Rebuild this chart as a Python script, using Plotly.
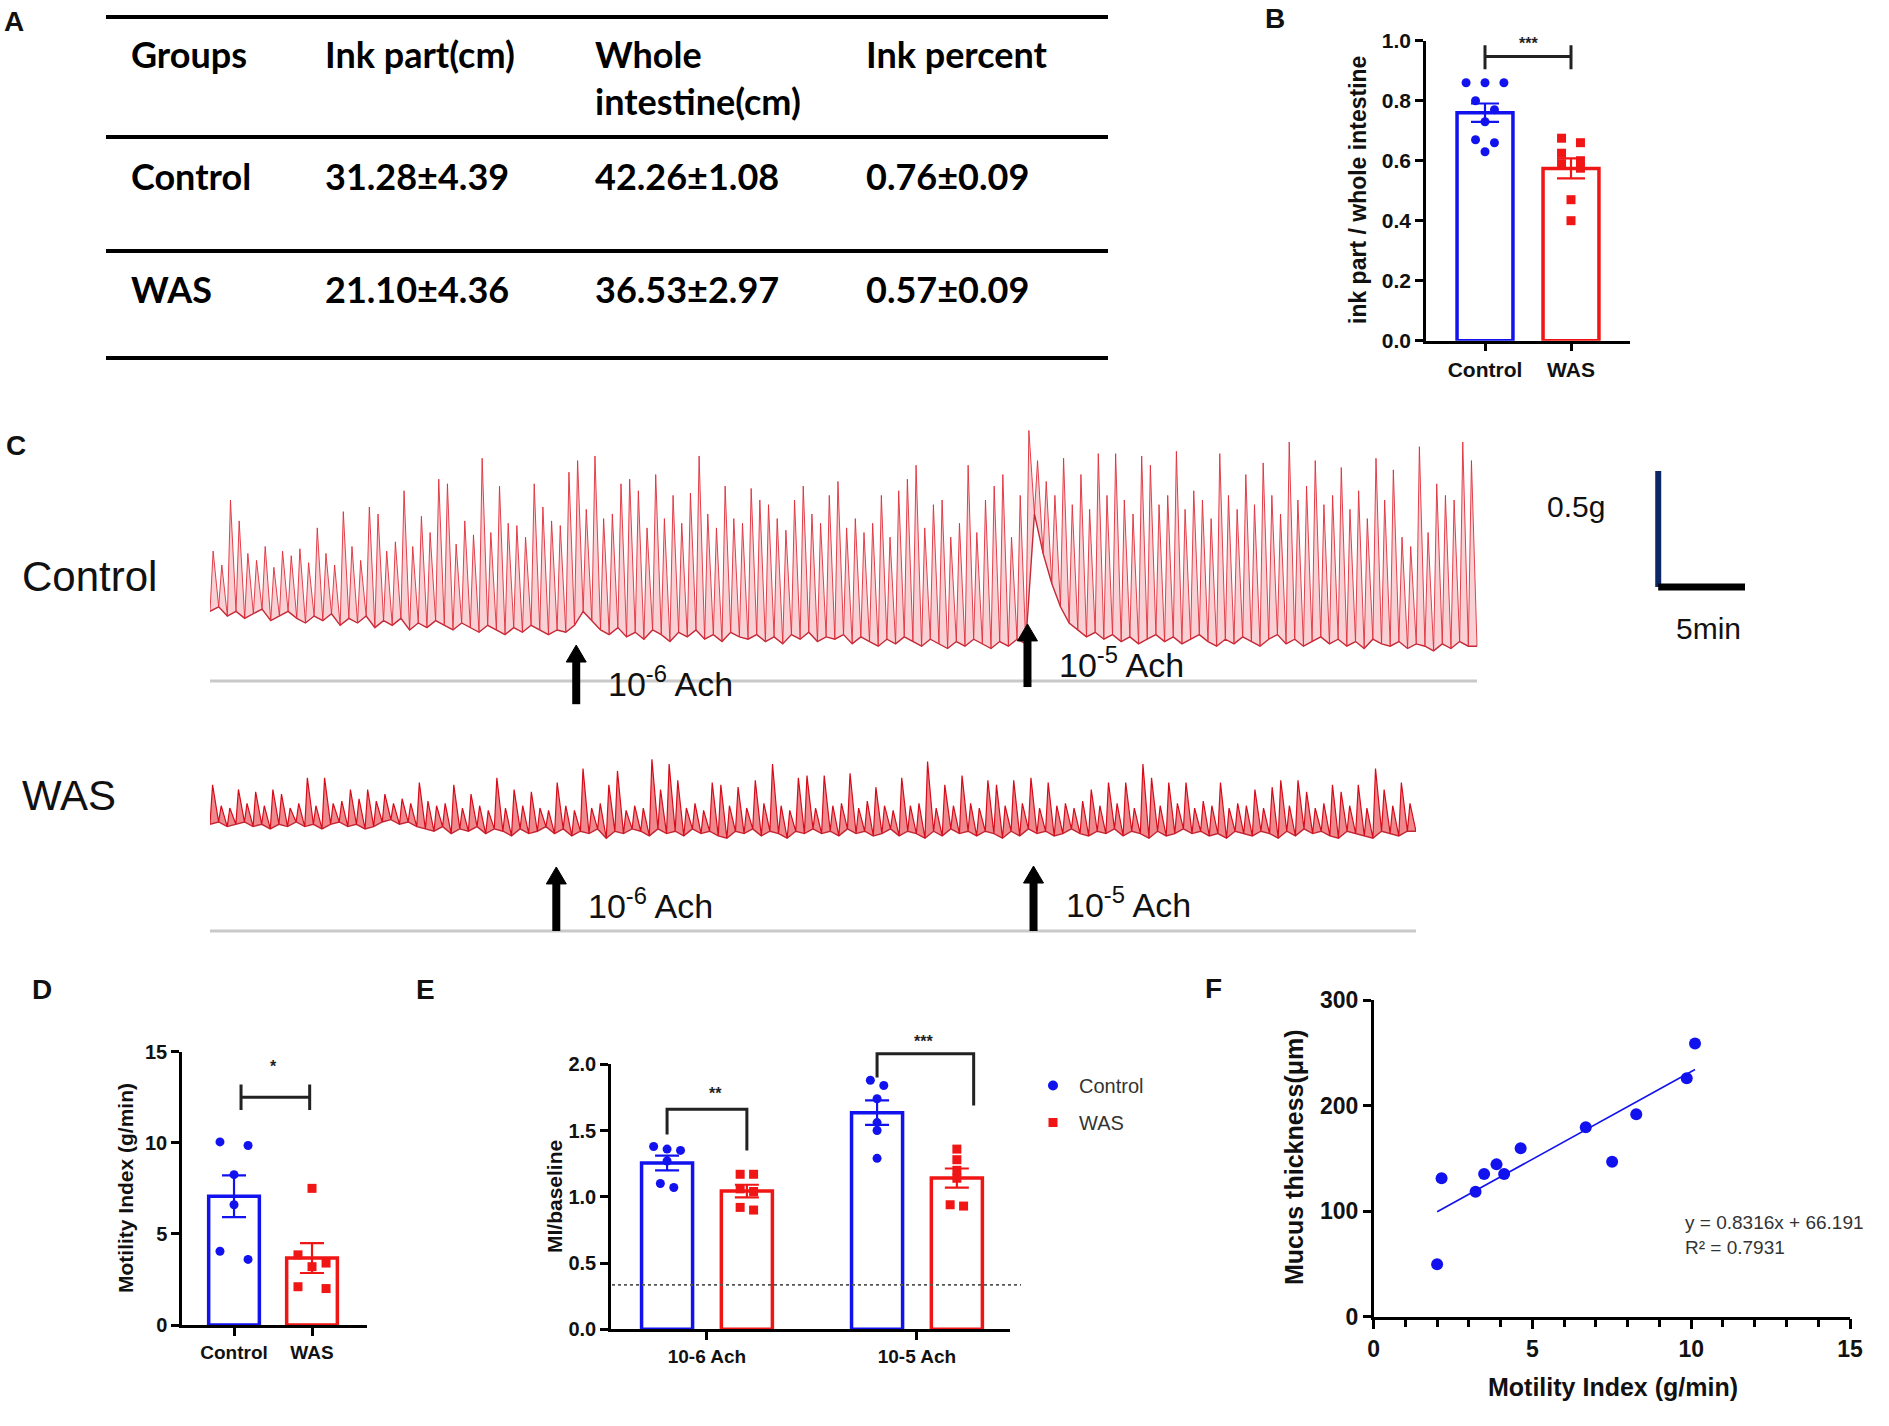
import numpy as np
import plotly.graph_objects as go

W, H = 1889, 1426
BLUE = "#1212ee"
RED = "#f01616"
FONT = "Liberation Sans, Arial, sans-serif"
TABLE_FONT = "Lato, Liberation Sans, sans-serif"

# ---------------- data ----------------
# A: table
table_header = ["Groups", "Ink part(cm)", "Whole<br>intestine(cm)", "Ink percent"]
table_rows = [["Control", "31.28±4.39", "42.26±1.08", "0.76±0.09"],
              ["WAS", "21.10±4.36", "36.53±2.97", "0.57±0.09"]]

# B: ink part / whole intestine
groups = ["Control", "WAS"]
ink_control = [0.86, 0.86, 0.86, 0.80, 0.77, 0.73, 0.67, 0.66, 0.63]
ink_was = [0.675, 0.66, 0.625, 0.60, 0.59, 0.575, 0.47, 0.40]

# C: tension traces (g), one trough and one peak per contraction cycle
control_troughs = [
    0.30, 0.32, 0.28, 0.30, 0.27, 0.29, 0.31, 0.26, 0.28, 0.30,
    0.27, 0.25, 0.28, 0.26, 0.29, 0.24, 0.27, 0.25, 0.28, 0.23,
    0.26, 0.24, 0.27, 0.22, 0.25, 0.23, 0.26, 0.24, 0.22, 0.25,
    0.23, 0.21, 0.24, 0.22, 0.20, 0.23, 0.21, 0.24, 0.22, 0.20,
    0.22, 0.21, 0.24, 0.30, 0.26, 0.22, 0.20, 0.23, 0.19, 0.21,
    0.18, 0.22, 0.20, 0.17, 0.21, 0.19, 0.22, 0.18, 0.20, 0.17,
    0.21, 0.19, 0.18, 0.20, 0.17, 0.19, 0.16, 0.20, 0.18, 0.21,
    0.17, 0.19, 0.18, 0.20, 0.16, 0.19, 0.17, 0.15, 0.18, 0.16,
    0.19, 0.17, 0.15, 0.18, 0.16, 0.14, 0.17, 0.15, 0.18, 0.16,
    0.14, 0.17, 0.15, 0.18, 0.16, 0.72, 0.55, 0.42, 0.32, 0.25,
    0.22, 0.19, 0.21, 0.18, 0.20, 0.17, 0.19, 0.16, 0.18, 0.20,
    0.17, 0.19, 0.16, 0.18, 0.20, 0.17, 0.15, 0.18, 0.16, 0.19,
    0.17, 0.15, 0.18, 0.20, 0.16, 0.18, 0.15, 0.17, 0.19, 0.16,
    0.18, 0.15, 0.17, 0.14, 0.18, 0.16, 0.15, 0.17, 0.14, 0.16,
    0.15, 0.13, 0.16, 0.14, 0.17, 0.15]
control_peaks = [
    0.56, 0.50, 0.78, 0.69, 0.55, 0.52, 0.58, 0.49, 0.56, 0.54,
    0.57, 0.51, 0.66, 0.55, 0.50, 0.73, 0.58, 0.52, 0.75, 0.72,
    0.56, 0.60, 0.82, 0.58, 0.71, 0.64, 0.87, 0.85, 0.59, 0.69,
    0.63, 0.96, 0.64, 0.84, 0.68, 0.67, 0.62, 0.85, 0.75, 0.69,
    0.67, 0.90, 0.95, 0.74, 0.97, 0.70, 0.72, 0.85, 0.87, 0.82,
    0.66, 0.89, 0.70, 0.80, 0.68, 0.81, 0.97, 0.72, 0.66, 0.84,
    0.70, 0.68, 0.83, 0.78, 0.76, 0.70, 0.65, 0.78, 0.84, 0.72,
    0.68, 0.80, 0.86, 0.66, 0.70, 0.64, 0.68, 0.80, 0.62, 0.82,
    0.87, 0.93, 0.66, 0.76, 0.78, 0.62, 0.68, 0.93, 0.64, 0.78,
    0.84, 0.89, 0.62, 0.80, 1.08, 0.95, 0.86, 0.80, 0.96, 0.76,
    0.89, 0.74, 0.98, 0.80, 0.98, 0.78, 0.72, 0.97, 0.93, 0.76,
    0.80, 0.99, 0.74, 0.82, 0.78, 0.70, 0.98, 0.80, 0.74, 0.89,
    0.76, 0.94, 0.80, 0.72, 1.03, 0.78, 0.84, 0.95, 0.76, 0.80,
    0.92, 0.74, 0.82, 0.70, 0.96, 0.78, 0.91, 0.62, 0.58, 1.01,
    0.64, 0.85, 0.80, 0.78, 1.03, 0.95]
was_troughs = [
    0.46, 0.47, 0.45, 0.46, 0.47, 0.45, 0.46, 0.44, 0.46, 0.45,
    0.47, 0.45, 0.46, 0.44, 0.46, 0.47, 0.45, 0.46, 0.44, 0.45,
    0.47, 0.48, 0.46, 0.47, 0.45, 0.44, 0.43, 0.45, 0.42, 0.44,
    0.43, 0.45, 0.42, 0.44, 0.43, 0.41, 0.44, 0.42, 0.43, 0.45,
    0.42, 0.44, 0.41, 0.43, 0.42, 0.44, 0.40, 0.43, 0.42, 0.44,
    0.43, 0.41, 0.44, 0.42, 0.43, 0.41, 0.44, 0.42, 0.43, 0.41,
    0.40, 0.43, 0.42, 0.44, 0.41, 0.43, 0.42, 0.40, 0.43, 0.42,
    0.44, 0.42, 0.43, 0.41, 0.44, 0.42, 0.43, 0.41, 0.42, 0.44,
    0.41, 0.43, 0.42, 0.40, 0.43, 0.41, 0.44, 0.42, 0.43, 0.41,
    0.43, 0.42, 0.40, 0.43, 0.41, 0.44, 0.42, 0.43, 0.41, 0.42,
    0.44, 0.42, 0.41, 0.43, 0.42, 0.44, 0.41, 0.43, 0.42, 0.40,
    0.43, 0.41, 0.42, 0.44, 0.42, 0.43, 0.41, 0.42, 0.40, 0.43,
    0.42, 0.41, 0.43, 0.42, 0.40, 0.43, 0.41, 0.44, 0.42, 0.43,
    0.41, 0.40, 0.43, 0.42, 0.41, 0.40, 0.43, 0.42, 0.41, 0.43]
was_peaks = [
    0.63, 0.54, 0.53, 0.61, 0.55, 0.60, 0.54, 0.61, 0.59, 0.53,
    0.55, 0.66, 0.54, 0.66, 0.55, 0.56, 0.61, 0.57, 0.61, 0.56,
    0.59, 0.55, 0.57, 0.55, 0.64, 0.56, 0.54, 0.55, 0.63, 0.53,
    0.59, 0.54, 0.52, 0.66, 0.53, 0.61, 0.54, 0.60, 0.53, 0.52,
    0.64, 0.54, 0.52, 0.70, 0.53, 0.55, 0.63, 0.69, 0.52, 0.54,
    0.53, 0.74, 0.61, 0.72, 0.65, 0.53, 0.55, 0.52, 0.64, 0.63,
    0.54, 0.62, 0.53, 0.65, 0.55, 0.72, 0.54, 0.52, 0.66, 0.67,
    0.53, 0.67, 0.54, 0.55, 0.68, 0.53, 0.56, 0.62, 0.54, 0.52,
    0.66, 0.54, 0.55, 0.73, 0.53, 0.63, 0.54, 0.67, 0.55, 0.53,
    0.65, 0.63, 0.54, 0.65, 0.55, 0.66, 0.53, 0.64, 0.54, 0.55,
    0.53, 0.56, 0.61, 0.54, 0.64, 0.55, 0.64, 0.53, 0.72, 0.66,
    0.54, 0.64, 0.55, 0.64, 0.53, 0.56, 0.54, 0.64, 0.53, 0.55,
    0.54, 0.61, 0.53, 0.62, 0.65, 0.54, 0.65, 0.60, 0.53, 0.55,
    0.63, 0.60, 0.54, 0.63, 0.53, 0.70, 0.61, 0.54, 0.64, 0.55]
cycle_min = 0.5
ach_times_control = [21.1, 47.1]
ach_times_was = [20.1, 47.8]
ach_labels = ["10<sup>-6</sup> Ach", "10<sup>-5</sup> Ach"]

# D: motility index
mi_control = [10.05, 9.85, 8.25, 6.6, 4.05, 3.6]
mi_was = [7.5, 3.85, 3.4, 3.2, 2.1, 2.0]

# E: MI / baseline after Ach
ach_doses = ["10-6 Ach", "10-5 Ach"]
ratio_control = [[1.38, 1.36, 1.35, 1.27, 1.10, 1.07],
                 [1.88, 1.84, 1.74, 1.56, 1.50, 1.29]]
ratio_was = [[1.17, 1.17, 1.06, 1.04, 0.92, 0.90],
             [1.36, 1.28, 1.20, 1.14, 0.94, 0.93]]
baseline_ratio = 0.335

# F: mucus thickness vs motility index
mucus_mi = [10.12, 9.86, 8.27, 6.68, 7.51, 4.63, 3.87, 4.11, 3.48, 3.21, 2.14, 2.0]
mucus_um = [258.9, 225.8, 191.7, 179.4, 146.8, 159.5, 144.3, 135.2, 135.2, 118.4, 131.1, 49.6]
fit_slope, fit_intercept = 16.6, 66.191
fit_text = "y = 0.8316x + 66.191<br>R² = 0.7931"


# ---------------- helpers ----------------
def px(x):
    return x / W


def py(y):
    return 1 - y / H


def dom_x(a, b):
    return [a / W, b / W]


def dom_y(top, bottom):
    return [1 - bottom / H, 1 - top / H]


def swarm(vals, center, thr, step):
    order = sorted(range(len(vals)), key=lambda i: -vals[i])
    rows = []
    for i in order:
        if rows and vals[rows[-1][0]] - vals[i] < thr:
            rows[-1].append(i)
        else:
            rows.append([i])
    xs = [center] * len(vals)
    for row in rows:
        n = len(row)
        for k, i in enumerate(row):
            xs[i] = center + (k - (n - 1) / 2) * step
    return xs


def mean_sem(v):
    v = np.asarray(v, dtype=float)
    return v.mean(), v.std(ddof=1) / np.sqrt(len(v))


def prism_axis(domain, rng, anchor, size=20, **kw):
    d = dict(domain=domain, range=rng, anchor=anchor, showline=True, linecolor="black",
             linewidth=2.5, ticks="outside", ticklen=8, tickwidth=2.5, tickcolor="black",
             showgrid=False, zeroline=False, fixedrange=True, automargin=False,
             tickfont=dict(family=FONT, size=size, color="#111", weight="bold"))
    d.update(kw)
    return d


def to_paper(v, dom, rng):
    return dom[0] + (v - rng[0]) / (rng[1] - rng[0]) * (dom[1] - dom[0])


def text(x, y, s, size, ref=("paper", "paper"), angle=0, xanchor="center", bold=False,
         color="#111", family=FONT, **kw):
    d = dict(x=x, y=y, xref=ref[0], yref=ref[1], text=s, showarrow=False, textangle=angle,
             xanchor=xanchor, yanchor="middle",
             font=dict(family=family, size=size, color=color,
                       weight="bold" if bold else "normal"))
    d.update(kw)
    return d


fig = go.Figure()
shapes = []
annotations = []


def bar_panel(xa, ya, centers, values_list, colors, symbols, width, step, thr, cap, msize):
    for c, vals, col, sym in zip(centers, values_list, colors, symbols):
        m, s = mean_sem(vals)
        fig.add_trace(go.Bar(x=[c], y=[m], width=width, xaxis=xa, yaxis=ya, showlegend=False,
                             marker=dict(color="white", line=dict(color=col, width=3.5))))
        fig.add_trace(go.Scatter(x=swarm(vals, c, thr, step), y=vals, mode="markers",
                                 xaxis=xa, yaxis=ya, showlegend=False, cliponaxis=False,
                                 marker=dict(color=col, symbol=sym, size=msize)))
        fig.add_trace(go.Scatter(x=[c], y=[m], mode="markers", xaxis=xa, yaxis=ya, showlegend=False,
                                 marker=dict(color=col, size=1),
                                 error_y=dict(type="data", array=[s], color=col, thickness=2.2,
                                              width=cap)))


# ---------------- A: table ----------------
for yy in [17, 137, 251, 358]:
    shapes.append(dict(type="line", xref="paper", yref="paper", x0=px(106), x1=px(1108),
                       y0=py(yy), y1=py(yy), line=dict(color="black", width=4)))
col_x = [129, 323, 593, 864]
for cx, txt in zip(col_x, table_header):
    annotations.append(dict(x=px(cx), y=py(30), xref="paper", yref="paper", text=txt,
                            showarrow=False, xanchor="left", yanchor="top", align="left",
                            font=dict(family=TABLE_FONT, size=36, color="black", weight="bold")))
for row, ry in zip(table_rows, [176, 289]):
    for cx, txt in zip(col_x, row):
        annotations.append(text(px(cx), py(ry), txt, 36, xanchor="left", bold=True,
                                color="black", family=TABLE_FONT))

# ---------------- B ----------------
B_X, B_Y = dom_x(1426, 1630), dom_y(40.7, 340.7)
B_XR, B_YR = [-0.686, 1.686], [0, 1]
bar_panel("x", "y", [0, 1], [ink_control, ink_was], [BLUE, RED], ["circle", "square"],
          0.65, 0.22, 0.035, 14, 9)
for xv in [0, 1]:
    shapes.append(dict(type="line", xref="x", yref="y", x0=xv, x1=xv, y0=0.905, y1=0.985,
                       line=dict(color="#222", width=3)))
shapes.append(dict(type="line", xref="x", yref="y", x0=0, x1=1, y0=0.947, y1=0.947,
                   line=dict(color="#222", width=3)))
annotations.append(text(0.5, 0.99, "***", 16, ref=("x", "y"), bold=True, color="#222"))
annotations.append(text(px(1358), py(190), "ink part / whole intestine", 23, angle=-90,
                        bold=True))

# ---------------- C: traces ----------------
def trace_xy(troughs, peaks, cycle, rise):
    t, g = [], []
    for i, (lo, hi) in enumerate(zip(troughs, peaks)):
        t += [i * cycle, i * cycle + rise]
        g += [lo, hi]
    t.append(len(peaks) * cycle)
    g.append(troughs[-1])
    return t, g


G_PX = 232.0  # pixels per gram
C_END = len(control_peaks) * cycle_min
MIN_PX = (1477 - 210) / C_END
C2_X = dom_x(210, 1745)
C2_XR = [0, (1745 - 210) / MIN_PX]
C2_Y = dom_y(420, 712)
C2_YR = [(681 - 712) / G_PX, (681 - 420) / G_PX]
W_END = len(was_peaks) * cycle_min
C3_X = dom_x(210, 1416)
C3_XR = [0, W_END]
C3_Y = dom_y(735, 960)
C3_YR = [(931 - 960) / G_PX, (931 - 735) / G_PX]

for xa, ya, tr, pk, rise, line_col, fill_col, lw in [
        ("x2", "y2", control_troughs, control_peaks, 0.18, "rgba(224,45,58,0.9)",
         "rgba(242,150,158,0.45)", 1.0),
        ("x3", "y3", was_troughs, was_peaks, 0.15, "rgb(214,12,26)",
         "rgba(225,40,50,0.55)", 1.2)]:
    t_low = [i * cycle_min for i in range(len(tr))] + [len(tr) * cycle_min]
    fig.add_trace(go.Scatter(x=t_low, y=tr + [tr[-1]], mode="lines", xaxis=xa, yaxis=ya,
                             showlegend=False, line=dict(color="rgba(190,20,35,0.9)", width=1.4)))
    tt, gg = trace_xy(tr, pk, cycle_min, rise)
    fig.add_trace(go.Scatter(x=tt, y=gg, mode="lines", xaxis=xa, yaxis=ya, showlegend=False,
                             fill="tonexty", fillcolor=fill_col,
                             line=dict(color=line_col, width=lw)))

shapes.append(dict(type="line", xref="x2", yref="y2", x0=0, x1=C_END, y0=0, y1=0,
                   line=dict(color="#c9c9c9", width=3)))
shapes.append(dict(type="line", xref="x3", yref="y3", x0=0, x1=W_END, y0=0, y1=0,
                   line=dict(color="#c9c9c9", width=3)))

arrow_geom_c = [(0.155, -0.10, 0.0), (0.246, -0.026, 0.078)]
arrow_geom_w = [(0.276, 0.0, 0.12), (0.28, 0.0, 0.125)]
HEAD_W, HEAD_L = 10.0, 17.0  # px
for (xa, ya, dx_, dy_, rx, ry, times, geom) in [
        ("x2", "y2", C2_X, C2_Y, C2_XR, C2_YR, ach_times_control, arrow_geom_c),
        ("x3", "y3", C3_X, C3_Y, C3_XR, C3_YR, ach_times_was, arrow_geom_w)]:
    for t, (tip, base, ly), lab in zip(times, geom, ach_labels):
        xp = to_paper(t, dx_, rx)
        yt = to_paper(tip, dy_, ry)
        yb = to_paper(base, dy_, ry)
        hw, hl = HEAD_W / W, HEAD_L / H
        shapes.append(dict(type="line", xref="paper", yref="paper", x0=xp, x1=xp,
                           y0=yb, y1=yt - hl * 0.5, line=dict(color="black", width=8)))
        shapes.append(dict(type="path", xref="paper", yref="paper",
                           path=f"M{xp - hw:.5f},{yt - hl:.5f} L{xp + hw:.5f},{yt - hl:.5f} "
                                f"L{xp:.5f},{yt:.5f} Z",
                           fillcolor="black", line=dict(color="black", width=1)))
        annotations.append(text(t, ly, lab, 34, ref=(xa, ya), xanchor="left", xshift=30))

# scale bar: 0.5 g by 5 min
sb_t, sb_g = C2_XR[1] - 5, (681 - 587) / G_PX
shapes.append(dict(type="line", xref="x2", yref="y2", x0=sb_t, x1=sb_t, y0=sb_g, y1=sb_g + 0.5,
                   line=dict(color="#0d2766", width=6)))
shapes.append(dict(type="line", xref="x2", yref="y2", x0=sb_t, x1=sb_t + 5, y0=sb_g, y1=sb_g,
                   line=dict(color="black", width=7)))
annotations.append(text(px(1576), py(506), "0.5g", 30))
annotations.append(text(px(1708), py(629), "5min", 30))
for lab, yy in [("Control", 576), ("WAS", 795)]:
    annotations.append(text(px(20), py(yy), lab, 42, xanchor="left"))

# ---------------- D ----------------
D_X, D_Y = dom_x(182, 367), dom_y(1051.7, 1325)
D_XR, D_YR = [-0.667, 1.705], [0, 15]
bar_panel("x4", "y4", [0, 1], [mi_control, mi_was], [BLUE, RED], ["circle", "square"],
          0.65, 0.36, 0.6, 12, 9)
for xv in [0.09, 0.97]:
    shapes.append(dict(type="line", xref="x4", yref="y4", x0=xv, x1=xv, y0=11.8, y1=13.2,
                       line=dict(color="#222", width=3)))
shapes.append(dict(type="line", xref="x4", yref="y4", x0=0.09, x1=0.97, y0=12.5, y1=12.5,
                   line=dict(color="#222", width=3)))
annotations.append(text(0.5, 14.2, "*", 16, ref=("x4", "y4"), bold=True, color="#222"))
annotations.append(text(px(125), py(1188), "Motility Index (g/min)", 21, angle=-90, bold=True))

# ---------------- E ----------------
E_X, E_Y = dom_x(611, 1010), dom_y(1064.3, 1329.3)
E_XR, E_YR = [-0.457, 1.443], [0, 2]
off = 0.19
bar_panel("x5", "y5", [-off, 1 - off], ratio_control, [BLUE, BLUE], ["circle", "circle"],
          0.243, 0.064, 0.05, 12, 9)
bar_panel("x5", "y5", [off, 1 + off], ratio_was, [RED, RED], ["square", "square"],
          0.243, 0.064, 0.05, 12, 9)


def e_path(pts):
    d = ""
    for k, (xv, yv) in enumerate(pts):
        d += ("M" if k == 0 else "L") + f"{to_paper(xv, E_X, E_XR):.5f},{to_paper(yv, E_Y, E_YR):.5f} "
    return d


shapes.append(dict(type="path", xref="paper", yref="paper",
                   path=e_path([(-off, 1.47), (-off, 1.66), (off, 1.66), (off, 1.35)]),
                   line=dict(color="#222", width=3)))
shapes.append(dict(type="path", xref="paper", yref="paper",
                   path=e_path([(1 - off, 1.90), (1 - off, 2.08), (1.27, 2.08), (1.27, 1.69)]),
                   line=dict(color="#222", width=3)))
annotations.append(text(to_paper(0.04, E_X, E_XR), to_paper(1.78, E_Y, E_YR), "**", 16,
                        bold=True, color="#222"))
annotations.append(text(to_paper(1.03, E_X, E_XR), to_paper(2.17, E_Y, E_YR), "***", 16,
                        bold=True, color="#222"))
shapes.append(dict(type="line", xref="paper", yref="paper", x0=px(612), x1=px(1021),
                   y0=to_paper(baseline_ratio, E_Y, E_YR), y1=to_paper(baseline_ratio, E_Y, E_YR),
                   line=dict(color="#555", width=1.6, dash="dot")))
annotations.append(text(px(554), py(1197), "MI/baseline", 21, angle=-90, bold=True))
# legend entries
fig.add_trace(go.Scatter(x=[None], y=[None], mode="markers", name="Control", legendgroup="c",
                         marker=dict(color=BLUE, symbol="circle", size=10), xaxis="x5", yaxis="y5"))
fig.add_trace(go.Scatter(x=[None], y=[None], mode="markers", name="WAS", legendgroup="w",
                         marker=dict(color=RED, symbol="square", size=9), xaxis="x5", yaxis="y5"))

# ---------------- F ----------------
F_X, F_Y = dom_x(1373.6, 1850), dom_y(1000, 1316.7)
fig.add_trace(go.Scatter(x=mucus_mi, y=mucus_um, mode="markers", xaxis="x6", yaxis="y6",
                         showlegend=False, cliponaxis=False,
                         marker=dict(color=BLUE, size=12)))
fx = np.array([min(mucus_mi), max(mucus_mi)])
fig.add_trace(go.Scatter(x=fx, y=fit_slope * fx + fit_intercept, mode="lines", xaxis="x6",
                         yaxis="y6", showlegend=False, line=dict(color=BLUE, width=1.6)))
annotations.append(text(px(1683), py(1235), fit_text, 19, xanchor="left", align="left",
                        color="#333"))
annotations.append(text(px(1294), py(1157), "Mucus thickness(μm)", 25, angle=-90, bold=True))
annotations.append(text(px(1613), py(1387), "Motility Index (g/min)", 25, bold=True))

# panel letters
for lab, x0, y0 in [("A", 14, 22), ("B", 1275, 18), ("C", 16, 446), ("D", 42, 990),
                    ("E", 425, 990), ("F", 1213, 988)]:
    annotations.append(text(px(x0), py(y0), lab, 28, bold=True))

fig.update_layout(
    width=W, height=H, margin=dict(l=0, r=0, t=0, b=0, pad=0, autoexpand=False),
    paper_bgcolor="white", plot_bgcolor="white", barmode="overlay",
    showlegend=True,
    legend=dict(x=px(1027), y=py(1066), xanchor="left", yanchor="top", bgcolor="rgba(0,0,0,0)",
                tracegroupgap=8, itemwidth=42,
                font=dict(family=FONT, size=20, color="#333")),
    xaxis=prism_axis(B_X, B_XR, "y", size=21, tickvals=[0, 1], ticktext=groups),
    yaxis=prism_axis(B_Y, B_YR, "x", size=21, tickvals=[0, 0.2, 0.4, 0.6, 0.8, 1.0],
                     tickformat=".1f"),
    xaxis2=dict(domain=C2_X, range=C2_XR, anchor="y2", visible=False, fixedrange=True),
    yaxis2=dict(domain=C2_Y, range=C2_YR, anchor="x2", visible=False, fixedrange=True),
    xaxis3=dict(domain=C3_X, range=C3_XR, anchor="y3", visible=False, fixedrange=True),
    yaxis3=dict(domain=C3_Y, range=C3_YR, anchor="x3", visible=False, fixedrange=True),
    xaxis4=prism_axis(D_X, D_XR, "y4", size=19, tickvals=[0, 1], ticktext=groups),
    yaxis4=prism_axis(D_Y, D_YR, "x4", size=20, tickvals=[0, 5, 10, 15]),
    xaxis5=prism_axis(E_X, E_XR, "y5", size=19, tickvals=[0, 1], ticktext=ach_doses),
    yaxis5=prism_axis(E_Y, E_YR, "x5", size=20, tickvals=[0, 0.5, 1.0, 1.5, 2.0],
                      tickformat=".1f"),
    xaxis6=prism_axis(F_X, [0, 15], "y6", size=23, tickvals=[0, 5, 10, 15], ticklen=10,
                      minor=dict(dtick=1, ticks="outside", ticklen=8, tickwidth=2.5,
                                 tickcolor="black")),
    yaxis6=prism_axis(F_Y, [0, 300], "x6", size=23, tickvals=[0, 100, 200, 300]),
    shapes=shapes,
    annotations=annotations,
)

# drop the default page margin so the figure sits at the page origin
fig.write_html("out.html", config={"displayModeBar": False},
               post_script="document.body.style.margin='0';document.body.style.overflow='hidden';")
